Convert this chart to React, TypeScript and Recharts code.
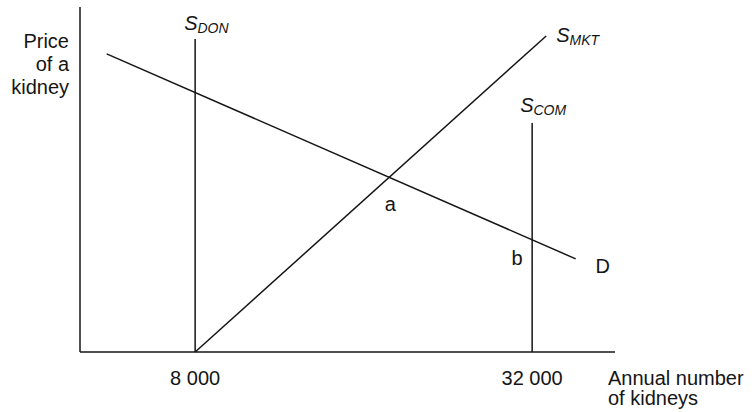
import { LineChart, Line, XAxis, YAxis, ReferenceDot } from 'recharts';

// quantities (kidneys per year) and prices (index 0-100)
const demandQty = [1700, 35100];
const demandPrice = [86.4, 27.0];
const marketQty = [8000, 33000];
const marketPrice = [0, 91.6];
const donationQty = [8000, 8000];
const donationPrice = [0, 90.7];
const commercialQty = [32000, 32000];
const commercialPrice = [0, 66.4];

const xTicks = [8000, 32000];
const pointA = { q: 21900, p: 50.4 };
const pointB = { q: 32000, p: 32.5 };

const toRows = (qs: number[], ps: number[]) => qs.map((q, i) => ({ q, p: ps[i] }));

const FONT = '"Liberation Sans", Arial, sans-serif';
const INK = '#151515';

const formatTick = (v: number) => v.toLocaleString('en-US').replace(',', ' ');

// S label with subscript, drawn at an offset from a data point
const supplyLabel = (sub: string, dx: number, dy: number) => (props: any) => {
    const { cx, cy } = props;
    return (
        <text x={cx + dx} y={cy + dy} fill={INK} fontFamily={FONT} fontStyle="italic">
            <tspan fontSize={20}>S</tspan>
            <tspan fontSize={14} dy={3}>{sub}</tspan>
        </text>
    );
};

const plainLabel = (txt: string, dx: number, dy: number) => (props: any) => {
    const { cx, cy } = props;
    return (
        <text x={cx + dx} y={cy + dy} fill={INK} fontFamily={FONT} fontSize={20} textAnchor="middle">
            {txt}
        </text>
    );
};

const App = () => {
    const lineProps = {
        type: 'linear' as const,
        dataKey: 'p',
        stroke: INK,
        strokeWidth: 1.5,
        dot: false,
        activeDot: false,
        isAnimationActive: false,
    };

    return (
        <div style={{ position: 'absolute', left: 0, top: 0, background: '#fff' }}>
            <LineChart width={752} height={412} margin={{ top: 7, right: 137, bottom: 0, left: 0 }}>
                <XAxis
                    dataKey="q"
                    type="number"
                    domain={[-200, 37900]}
                    ticks={xTicks}
                    allowDataOverflow
                    height={60}
                    tickSize={0}
                    tickMargin={0}
                    tickLine={false}
                    axisLine={{ stroke: INK, strokeWidth: 1.5 }}
                    tick={(props: any) => (
                        <text x={props.x} y={props.y + 33} textAnchor="middle" fill={INK} fontFamily={FONT} fontSize={20}>
                            {formatTick(props.payload.value)}
                        </text>
                    )}
                    label={{
                        content: (props: any) => {
                            const vb = props.viewBox;
                            const x = vb.x + vb.width - 7;
                            return (
                                <text x={x} y={vb.y + 33} fill={INK} fontFamily={FONT} fontSize={20}>
                                    <tspan x={x}>Annual number</tspan>
                                    <tspan x={x} dy={20}>of kidneys</tspan>
                                </text>
                            );
                        },
                    }}
                />
                <YAxis
                    type="number"
                    domain={[0, 100]}
                    width={80}
                    tick={false}
                    tickLine={false}
                    axisLine={{ stroke: INK, strokeWidth: 1.5 }}
                    label={{
                        content: (props: any) => {
                            const vb = props.viewBox;
                            const x = vb.x + vb.width - 11;
                            return (
                                <text x={x} y={vb.y + 41} fill={INK} fontFamily={FONT} fontSize={20} textAnchor="end">
                                    <tspan x={x}>Price</tspan>
                                    <tspan x={x} dy={23}>of a</tspan>
                                    <tspan x={x} dy={23}>kidney</tspan>
                                </text>
                            );
                        },
                    }}
                />

                <Line {...lineProps} data={toRows(donationQty, donationPrice)} />
                <Line {...lineProps} data={toRows(commercialQty, commercialPrice)} />
                <Line {...lineProps} data={toRows(marketQty, marketPrice)} />
                <Line {...lineProps} data={toRows(demandQty, demandPrice)} />

                <ReferenceDot x={donationQty[1]} y={donationPrice[1]} r={0} shape={supplyLabel('DON', -11, -9)} />
                <ReferenceDot x={marketQty[1]} y={marketPrice[1]} r={0} shape={supplyLabel('MKT', 10, 6)} />
                <ReferenceDot x={commercialQty[1]} y={commercialPrice[1]} r={0} shape={supplyLabel('COM', -12, -11)} />
                <ReferenceDot x={demandQty[1]} y={demandPrice[1]} r={0} shape={plainLabel('D', 27, 14)} />
                <ReferenceDot x={pointA.q} y={pointA.p} r={0} shape={plainLabel('a', 0, 33)} />
                <ReferenceDot x={pointB.q} y={pointB.p} r={0} shape={plainLabel('b', -15, 25)} />
            </LineChart>
        </div>
    );
};

export default App;
